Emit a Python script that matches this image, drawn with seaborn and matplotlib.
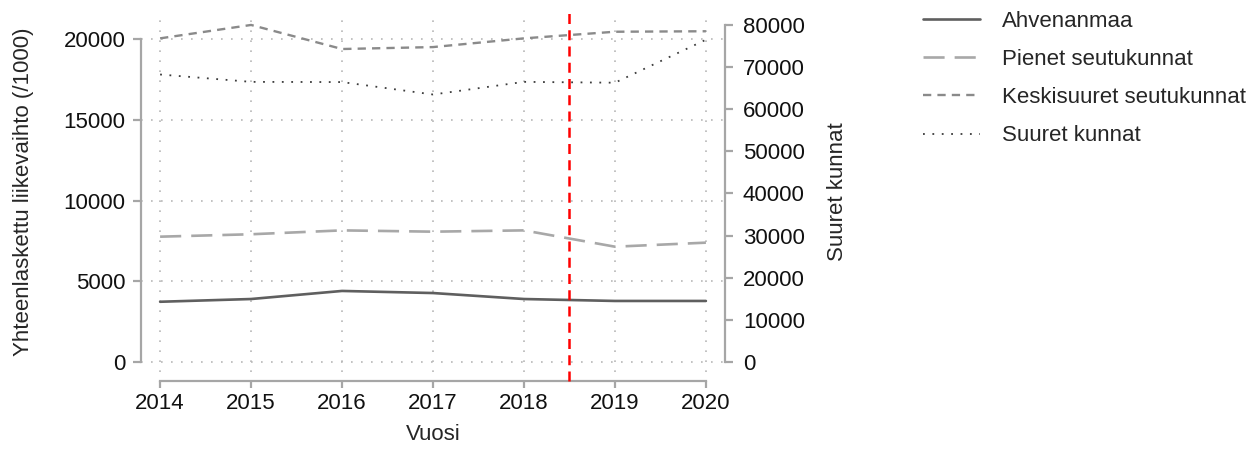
import matplotlib
matplotlib.use("Agg")
import matplotlib.pyplot as plt
import seaborn as sns
import pandas as pd

# data
vuodet = [2014, 2015, 2016, 2017, 2018, 2019, 2020]
ahvenanmaa = [3730, 3900, 4400, 4270, 3900, 3780, 3780]
pienet = [7760, 7910, 8150, 8070, 8150, 7140, 7390]
keskisuuret = [20040, 20870, 19380, 19500, 20040, 20450, 20480]
suuret = [68250, 66500, 66450, 63500, 66500, 66300, 76500]  # right axis

sarjat = ["Ahvenanmaa", "Pienet seutukunnat", "Keskisuuret seutukunnat", "Suuret kunnat"]
ticks_left = [0, 5000, 10000, 15000, 20000]
ticks_right = [0, 10000, 20000, 30000, 40000, 50000, 60000, 70000, 80000]
raja = 2018.5

df = pd.DataFrame({"Vuosi": vuodet, sarjat[0]: ahvenanmaa, sarjat[1]: pienet, sarjat[2]: keskisuuret})
df_oik = pd.DataFrame({"Vuosi": vuodet, sarjat[3]: suuret})

sns.set_style("white")
plt.rcParams["font.family"] = ["Liberation Sans", "DejaVu Sans"]
fs = 16
plt.rcParams["font.size"] = fs

fig = plt.figure(figsize=(12.55, 4.51), dpi=100)
ax = fig.add_axes([141 / 1255, 1 - 372 / 451, 584 / 1255, 360 / 451])
ax2 = ax.twinx()

spine_col = "#a6a6a6"
grid_col = "#b8b8b8"

tyylit = {
    sarjat[0]: dict(color="#5f5f5f", lw=1.9, ls="-"),
    sarjat[1]: dict(color="#a8a8a8", lw=1.9, ls=(0, (8, 3.8))),
    sarjat[2]: dict(color="#8a8a8a", lw=1.7, ls=(0, (3.5, 2.6))),
    sarjat[3]: dict(color="#3c3c3c", lw=1.3, ls=(0, (1, 4.2))),
}

# grid first so lines sit on top
for x in vuodet:
    ax.axvline(x, color=grid_col, lw=1.2, ls=(0, (1, 5)), zorder=0)
for y in ticks_left:
    ax.axhline(y, color=grid_col, lw=1.2, ls=(0, (1, 5)), zorder=0)

for s in sarjat[:3]:
    sns.lineplot(data=df, x="Vuosi", y=s, ax=ax, label=s, **tyylit[s])
sns.lineplot(data=df_oik, x="Vuosi", y=sarjat[3], ax=ax2, label=sarjat[3], **tyylit[sarjat[3]])

ax.axvline(raja, ymin=-0.025, ymax=1, color="red", lw=1.8, ls=(0, (4, 2.5)), clip_on=False, zorder=5)

ax.set_xlim(2013.79, 2020.21)
ax.set_ylim(-619, 21672)
ax2.set_ylim(-2374, 83086)

ax.set_xticks(vuodet)
ax.set_yticks(ticks_left)
ax2.set_yticks(ticks_right)

for a in (ax, ax2):
    for sp in a.spines.values():
        sp.set_visible(False)
        sp.set_color(spine_col)
        sp.set_linewidth(1.6)
    a.tick_params(colors=spine_col, labelcolor="#111111", width=1.6, length=5.8, labelsize=fs)

ax.spines["left"].set_visible(True)
ax.spines["left"].set_bounds(0, 20000)
ax.spines["bottom"].set_visible(True)
ax.spines["bottom"].set_bounds(2014, 2020)
ax.spines["bottom"].set_position(("outward", 6.5))
ax2.spines["right"].set_visible(True)
ax2.spines["right"].set_bounds(0, 80000)
ax.tick_params(axis="y", left=True, pad=5.5)
ax.tick_params(axis="x", bottom=True, pad=3.5, length=5)
ax2.tick_params(axis="y", right=True, pad=7)

ax.set_xlabel("Vuosi", fontsize=fs, labelpad=7)
ax.set_ylabel("Yhteenlaskettu liikevaihto (/1000)", fontsize=fs, labelpad=21)
ax2.set_ylabel("Suuret kunnat", fontsize=fs, labelpad=16)

# one legend outside on the right
h1, l1 = ax.get_legend_handles_labels()
h2, l2 = ax2.get_legend_handles_labels()
ax.get_legend().remove()
ax2.get_legend().remove()
fig.legend(h1 + h2, l1 + l2, loc="upper left", bbox_to_anchor=(923 / 1255, 1 - 11 / 451),
           frameon=False, fontsize=fs, handlelength=2.57, handletextpad=1.0,
           labelspacing=0.77, borderpad=0, borderaxespad=0)

fig.savefig("out.png", dpi=100)
